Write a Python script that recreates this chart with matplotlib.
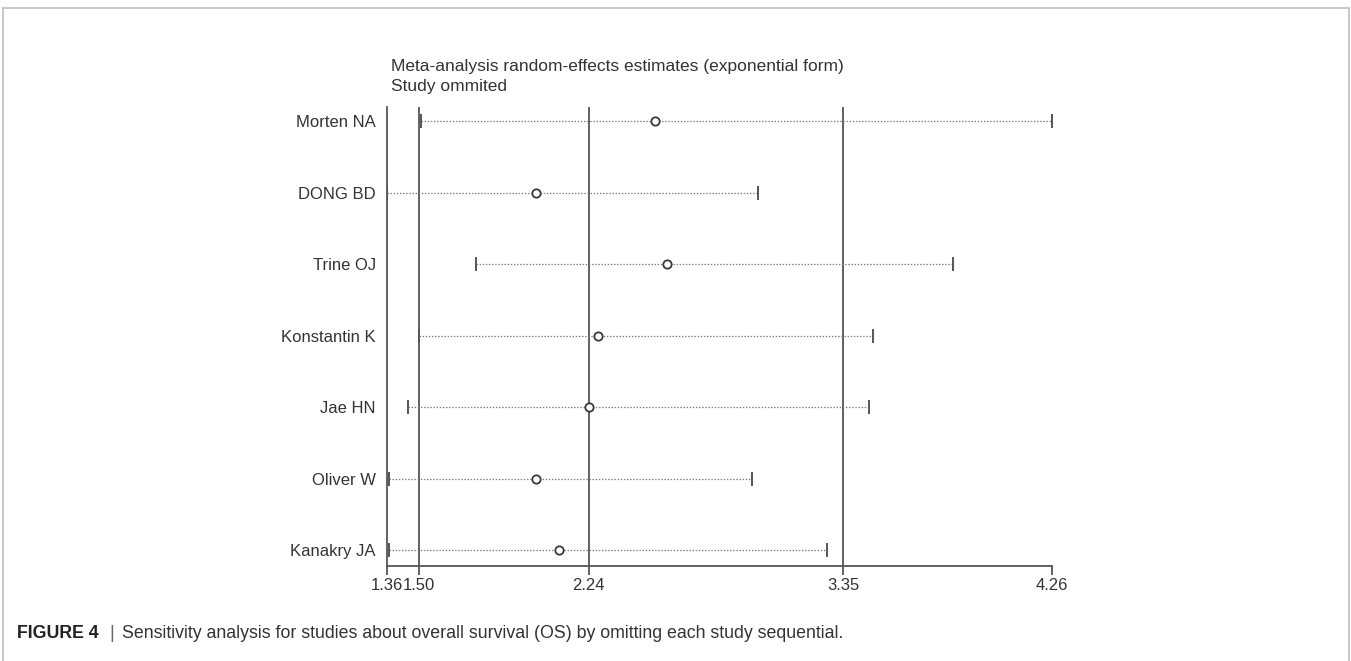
import matplotlib
matplotlib.use("Agg")
import matplotlib.pyplot as plt
from matplotlib.lines import Line2D

plt.rcParams['font.family'] = ['Liberation Sans', 'DejaVu Sans']

studies = ["Morten NA", "DONG BD", "Trine OJ", "Konstantin K", "Jae HN", "Oliver W", "Kanakry JA"]
estimate = [2.53, 2.01, 2.58, 2.28, 2.24, 2.01, 2.11]
lower = [1.51, 1.36, 1.75, 1.50, 1.45, 1.37, 1.37]
upper = [4.26, 2.98, 3.83, 3.48, 3.46, 2.95, 3.28]
ref_lines = [1.50, 2.24, 3.35]
tick_values = [1.36, 1.50, 2.24, 3.35, 4.26]
tick_labels = ["1.36", "1.50", "2.24", "3.35", "4.26"]
title_lines = ["Meta-analysis random-effects estimates (exponential form)", "Study ommited"]
caption_bold = "FIGURE 4"
caption_rest = "Sensitivity analysis for studies about overall survival (OS) by omitting each study sequential."

W, H = 1351, 661
fig = plt.figure(figsize=(W / 100, H / 100), dpi=100)
fig.patch.set_facecolor('white')

# axes placement in pixels
x0, x1 = 387, 1052
ytop, ybot = 107, 566
ax = fig.add_axes([x0 / W, 1 - ybot / H, (x1 - x0) / W, (ybot - ytop) / H])

n = len(studies)
ypos = list(range(n, 0, -1))
row_px = (550 - 121) / (n - 1)
ax.set_xlim(tick_values[0], tick_values[-1])
ax.set_ylim(1 - (ybot - 550) / row_px, n + (121 - ytop) / row_px)

line_col = '#555555'
for r in ref_lines:
    ax.axvline(r, color=line_col, lw=1.3, zorder=1)

for y, lo, est, hi in zip(ypos, lower, estimate, upper):
    ax.plot([lo, hi], [y, y], color='#777777', lw=0.9, dashes=(1.1, 1.4), zorder=2)
    ax.plot([lo, hi], [y, y], ls='none', marker='|', markersize=10, mew=1.4, color=line_col, zorder=3)
    ax.plot([est], [y], ls='none', marker='o', markersize=6, mew=1.3, mfc='white', mec='#3a3a3a', zorder=4)

for side in ['top', 'right']:
    ax.spines[side].set_visible(False)
for side in ['left', 'bottom']:
    ax.spines[side].set_color(line_col)
    ax.spines[side].set_linewidth(1.3)

ax.set_xticks(tick_values)
ax.set_xticklabels(tick_labels)
ax.set_yticks(ypos)
ax.set_yticklabels(studies)
ax.tick_params(axis='x', direction='out', length=6.5, width=1.3, color=line_col, pad=2.0,
               labelsize=12, labelcolor='#333333')
ax.tick_params(axis='y', length=0, pad=8, labelsize=12, labelcolor='#333333')

fig.text(391 / W, 1 - 66 / H, title_lines[0], fontsize=12.5, color='#333333', va='center', ha='left')
fig.text(391 / W, 1 - 86 / H, title_lines[1], fontsize=12.5, color='#333333', va='center', ha='left')

# border
bc = '#c0c0c0'
fig.add_artist(Line2D([3 / W, 3 / W], [0, 1 - 8 / H], color=bc, lw=1.2, transform=fig.transFigure))
fig.add_artist(Line2D([1349 / W, 1349 / W], [0, 1 - 8 / H], color=bc, lw=1.2, transform=fig.transFigure))
fig.add_artist(Line2D([3 / W, 1349 / W], [1 - 8 / H, 1 - 8 / H], color=bc, lw=1.2, transform=fig.transFigure))

# caption
cy = 1 - 633 / H
t1 = fig.text(17 / W, cy, caption_bold, fontsize=12.8, fontweight='bold', color='#222222', va='center', ha='left')
fig.canvas.draw()
r = fig.canvas.get_renderer()
bb = t1.get_window_extent(r)
xsep = bb.x1 + 11
fig.text(xsep / W, cy, "|", fontsize=12.8, color='#666666', va='center', ha='left')
fig.text((xsep + 12) / W, cy, caption_rest, fontsize=12.8, color='#333333', va='center', ha='left')

fig.savefig("out.png", dpi=100)
